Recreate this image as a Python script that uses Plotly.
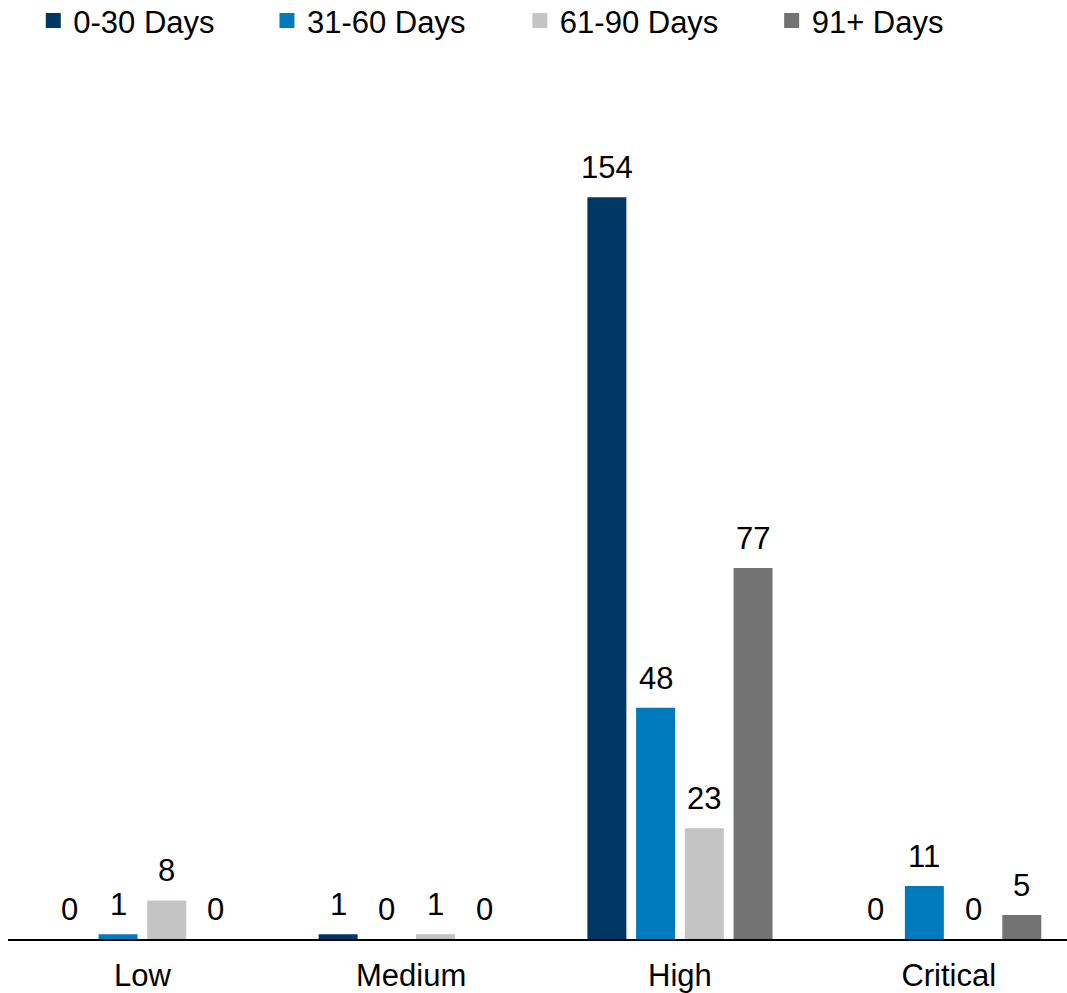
import plotly.graph_objects as go

# Open items by severity and age bucket
categories = ["Low", "Medium", "High", "Critical"]
series_names = ["0-30 Days", "31-60 Days", "61-90 Days", "91+ Days"]
values_0_30 = [0, 1, 154, 0]
values_31_60 = [1, 0, 48, 11]
values_61_90 = [8, 1, 23, 0]
values_91_plus = [0, 0, 77, 5]

series_values = [values_0_30, values_31_60, values_61_90, values_91_plus]
colors = ["#003865", "#007ABD", "#C4C4C4", "#737373"]

FONT = "Liberation Sans, Arial, sans-serif"
FONT_SIZE = 31
BARGAP = 0.275
BARGROUPGAP = 0.2

fig = go.Figure()

for name, vals, col in zip(series_names, series_values, colors):
    fig.add_trace(go.Bar(
        x=categories, y=vals, name=name,
        marker=dict(color=col, line=dict(width=0)),
        showlegend=False, hoverinfo="x+y+name",
    ))

# Legend entries: one square swatch per series, each in its own legend box
legend_ids = ["legend", "legend2", "legend3", "legend4"]
legend_x = [0.0312, 0.2502, 0.4872, 0.7232]
for name, col, lid in zip(series_names, colors, legend_ids):
    fig.add_trace(go.Scatter(
        x=[None], y=[None], name=name, mode="markers",
        marker=dict(symbol="square", size=15, color=col, line=dict(width=0)),
        legend=lid, showlegend=True,
    ))

# Value labels above each bar, placed at the bar's slot within its group
n = len(series_names)
slot = (1 - BARGAP) / n
annotations = []
for i, vals in enumerate(series_values):
    offset = (i - (n - 1) / 2) * slot
    for j, v in enumerate(vals):
        annotations.append(dict(
            x=j + offset, y=v, xref="x", yref="y",
            text=str(v), showarrow=False,
            yanchor="bottom", xanchor="center", yshift=10,
            font=dict(family=FONT, size=FONT_SIZE, color="#000000"),
        ))

legend_common = dict(
    orientation="h", xref="container", yref="container",
    y=0.979, yanchor="middle", xanchor="left",
    font=dict(family=FONT, size=FONT_SIZE, color="#000000"),
    bgcolor="rgba(0,0,0,0)", borderwidth=0, itemwidth=30,
    itemclick=False, itemdoubleclick=False,
)
legends = {}
for lid, lx in zip(legend_ids, legend_x):
    legends[lid] = dict(legend_common, x=lx)

fig.update_layout(
    width=1067, height=993,
    margin=dict(l=8, r=0, t=70, b=54),
    barmode="group", bargap=BARGAP, bargroupgap=BARGROUPGAP,
    plot_bgcolor="white", paper_bgcolor="white",
    font=dict(family=FONT, size=FONT_SIZE, color="#000000"),
    annotations=annotations,
    xaxis=dict(
        type="category", range=[-0.5, 3.44],
        showline=True, linecolor="#000000", linewidth=2,
        showgrid=False, ticks="", zeroline=False,
        ticklabelstandoff=8,
        tickfont=dict(family=FONT, size=FONT_SIZE, color="#000000"),
    ),
    yaxis=dict(
        range=[0, 180.4], visible=False, showgrid=False, zeroline=False,
    ),
    **legends,
)

fig.write_html("out.html")
